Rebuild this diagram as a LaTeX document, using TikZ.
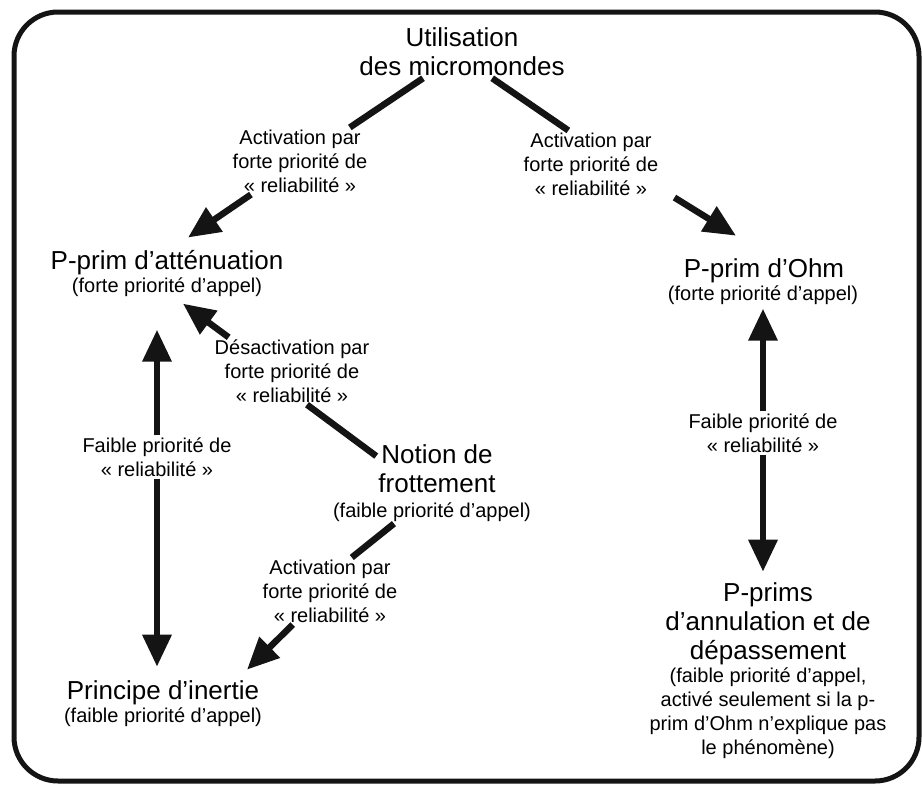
\documentclass[tikz,border=0pt]{standalone}
\usepackage{fontspec}
\setmainfont{Liberation Sans}
\usetikzlibrary{arrows.meta,calc}

\begin{document}
\begin{tikzpicture}[x=1pt,y=1pt,yscale=-1,xscale=1,
  main/.style={inner sep=2pt,align=center,font=\fontsize{26}{29}\selectfont},
  sub/.style={inner sep=2pt,align=center,font=\fontsize{20}{24}\selectfont},
  lbl/.style={inner sep=2pt,align=center,font=\fontsize{20}{24}\selectfont},
  link/.style={line width=6.5pt,color=black!92},
  arr/.style={link,-{Triangle[length=32pt,width=28pt]}}]
\useasboundingbox (0,0) rectangle (922,785);
%Rounded Rect
\draw [line width=5pt,rounded corners=44pt,color=black!92] (14,12) rectangle (919,781);

% Text Node
\draw (462,52) node [main] (util) {Utilisation\\des micromondes};
% Text Node
\draw (167,263) node [main] (pattn) {P-prim d'atténuation};
\draw (167,287) node [sub] (pattnsub) {(forte priorité d'appel)};
% Text Node
\draw (764,271) node [main] (pohm) {P-prim d'Ohm};
\draw (763,295) node [sub] (pohmsub) {(forte priorité d'appel)};
% Text Node
\draw (437,469) node [main] (frott) {Notion de\\frottement};
\draw (432,512) node [sub] (frottsub) {(faible priorité d'appel)};
% Text Node
\draw (163,693) node [main] (pinert) {Principe d'inertie};
\draw (163,717) node [sub] (pinertsub) {(faible priorité d'appel)};
% Text Node
\draw (768,624) node [main] (pannul) {P-prims\\d'annulation et de\\dépassement};
\draw (768,713) node [sub] (pannulsub) {(faible priorité d'appel,\\activé seulement si la p-\\prim d'Ohm n'explique pas\\le phénomène)};

% Text Node
\draw (300,161) node [lbl] (act1) {Activation par\\forte priorité de\\« reliabilité »};
% Text Node
\draw (591,164) node [lbl] (act2) {Activation par\\forte priorité de\\« reliabilité »};
% Text Node
\draw (157,457) node [lbl] (faib1) {Faible priorité de\\« reliabilité »};
% Text Node
\draw (763,433) node [lbl] (faib2) {Faible priorité de\\« reliabilité »};
% Text Node
\draw (292,371) node [lbl] (desact) {Désactivation par\\forte priorité de\\« reliabilité »};
% Text Node
\draw (330,591) node [lbl] (act3) {Activation par\\forte priorité de\\« reliabilité »};

%Straight Lines
\draw [link] (util) -- (act1);
\draw [arr] (act1) -- ($(pattn.north)+(21,-11)$);
%Straight Lines
\draw [link] (util.-41) -- (act2.124);
\draw [arr] ($(act2.south east)+(14,0)$) -- ($(pohm.north)+(-28,-21)$);
%Straight Lines
\draw [arr] (faib1.north) -- ($(faib1.north |- pattnsub.south)+(0,31)$);
\draw [arr] (faib1.south) -- ($(faib1.south |- pinert.north)+(0,-12)$);
%Straight Lines
\draw [arr] (faib2.north) -- ($(faib2.north |- pohmsub.south)+(0,2)$);
\draw [arr] (faib2.south) -- ($(faib2.south |- pannul.north)+(0,-9)$);
%Straight Lines
\draw [link] (frott.168) -- (desact.-66);
\draw [arr] (desact.152) -- ($(pattnsub.south)+(16,5)$);
%Straight Lines
\draw [link] (frottsub.197) -- (act3.57);
\draw [arr] (act3.-138) -- ($(pinert.north)+(84,-9)$);
\end{tikzpicture}
\end{document}
